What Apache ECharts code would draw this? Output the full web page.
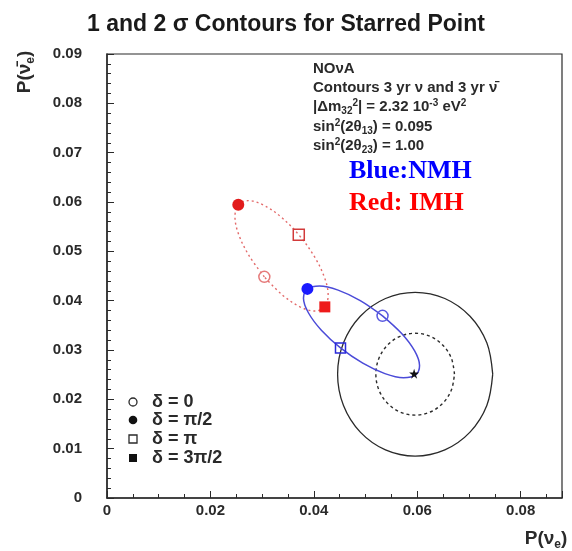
<!DOCTYPE html>
<html>
<head>
<meta charset="utf-8">
<title>1 and 2 sigma Contours for Starred Point</title>
<script src="https://cdn.jsdelivr.net/npm/echarts@6/dist/echarts.min.js"></script>
<style>
  html, body { margin: 0; padding: 0; background: #fff; }
  #main { width: 572px; height: 551px; }
</style>
</head>
<body>
<div id="main"></div>
<script>
  // axis ranges
  var xRange = [0, 0.088];
  var yRange = [0, 0.09];
  var xStep = 0.02;
  var yStep = 0.01;

  // contours, [P(nu_e), P(anti nu_e)]
  var sigma2Contour = [
    [0.0746, 0.0251], [0.07346, 0.03145], [0.07021, 0.03684], [0.06534, 0.04044],
    [0.0596, 0.0417], [0.05386, 0.04044], [0.04899, 0.03684], [0.04574, 0.03145],
    [0.0446, 0.0251], [0.04574, 0.01875], [0.04899, 0.01336], [0.05386, 0.00976],
    [0.0596, 0.0085], [0.06534, 0.00976], [0.07021, 0.01336], [0.07346, 0.01875],
    [0.0746, 0.0251]
  ];
  var sigma1Contour = [
    [0.0672, 0.0251], [0.06662, 0.02828], [0.06497, 0.03097], [0.06251, 0.03277],
    [0.0596, 0.0334], [0.05669, 0.03277], [0.05423, 0.03097], [0.05258, 0.02828],
    [0.0520, 0.0251], [0.05258, 0.02192], [0.05423, 0.01923], [0.05669, 0.01743],
    [0.0596, 0.0168], [0.06251, 0.01743], [0.06497, 0.01923], [0.06662, 0.02192],
    [0.0672, 0.0251]
  ];
  var blueContour = [
    [0.05329, 0.03692], [0.04898, 0.04001], [0.04470, 0.04213], [0.04111, 0.04297],
    [0.03876, 0.04239], [0.03800, 0.04049], [0.03895, 0.03755], [0.04146, 0.03401],
    [0.04516, 0.03043], [0.04947, 0.02733], [0.05375, 0.02521], [0.05734, 0.02437],
    [0.05969, 0.02495], [0.06045, 0.02685], [0.05950, 0.02980], [0.05699, 0.03333],
    [0.05329, 0.03692]
  ];
  var redContour = [
    [0.03043, 0.04483], [0.02748, 0.04911], [0.02548, 0.05339], [0.02475, 0.05701],
    [0.02539, 0.05943], [0.02730, 0.06028], [0.03020, 0.05941], [0.03364, 0.05698],
    [0.03709, 0.05335], [0.04004, 0.04906], [0.04204, 0.04478], [0.04277, 0.04116],
    [0.04213, 0.03874], [0.04022, 0.03790], [0.03732, 0.03876], [0.03388, 0.04119],
    [0.03043, 0.04483]
  ];

  // delta points
  var blueDelta0 = [[0.05329, 0.03692]];
  var blueDeltaHalfPi = [[0.03876, 0.04239]];
  var blueDeltaPi = [[0.04516, 0.03043]];
  var redDelta0 = [[0.03043, 0.04483]];
  var redDeltaHalfPi = [[0.02539, 0.05943]];
  var redDeltaPi = [[0.03709, 0.05335]];
  var redDelta3HalfPi = [[0.04213, 0.03874]];
  var starPoint = [[0.0594, 0.0252]];

  var legendLabels = ['δ = 0', 'δ = π/2', 'δ = π', 'δ = 3π/2'];

  var ink = '#2a2a2a';
  var blueLine = '#4b4bd8';
  var redLine = '#e36a6a';
  var sans = 'Liberation Sans, Arial';
  var starPath = 'path://M50,0 L61,35 L98,35 L68,57 L79,91 L50,70 L21,91 L32,57 L2,35 L39,35 Z';

  function fmt (v) {
    return v === 0 ? '0' : v.toFixed(2);
  }

  function contour (data, color, type, width) {
    return {
      type: 'line',
      data: data,
      smooth: 0.35,
      showSymbol: false,
      silent: true,
      z: 2,
      lineStyle: { color: color, width: width, type: type }
    };
  }

  function marker (data, symbol, size, fill, border) {
    return {
      type: 'scatter',
      data: data,
      symbol: symbol,
      symbolSize: size,
      z: 5,
      itemStyle: {
        color: fill,
        borderColor: border,
        borderWidth: border ? 1.5 : 0,
        opacity: 1
      }
    };
  }

  var sub = { fontSize: 10, fontWeight: 'bold', lineHeight: 10, verticalAlign: 'bottom', fill: ink, fontFamily: sans };
  var sup = { fontSize: 10, fontWeight: 'bold', lineHeight: 10, verticalAlign: 'top', fill: ink, fontFamily: sans };

  function infoText (y, text) {
    return {
      type: 'text',
      left: 313,
      top: y - 9,
      style: {
        text: text,
        fill: ink,
        font: 'bold 15px "Liberation Sans", Arial',
        lineHeight: 18,
        rich: {
          sb: sub,
          sp: sup
        }
      }
    };
  }

  var legendRows = [402, 420, 439, 458];
  var legendGraphics = [];
  legendGraphics.push({ type: 'circle', shape: { cx: 133, cy: legendRows[0], r: 4 }, style: { fill: 'none', stroke: ink, lineWidth: 1.3 } });
  legendGraphics.push({ type: 'circle', shape: { cx: 133, cy: legendRows[1], r: 4.3 }, style: { fill: '#111' } });
  legendGraphics.push({ type: 'rect', shape: { x: 129, y: legendRows[2] - 4, width: 8, height: 8 }, style: { fill: 'none', stroke: ink, lineWidth: 1.3 } });
  legendGraphics.push({ type: 'rect', shape: { x: 129, y: legendRows[3] - 4, width: 8, height: 8 }, style: { fill: '#111' } });
  for (var i = 0; i < legendLabels.length; i++) {
    legendGraphics.push({
      type: 'text',
      x: 152,
      y: legendRows[i],
      style: {
        text: legendLabels[i],
        fill: ink,
        font: 'bold 18px "Liberation Sans", Arial',
        verticalAlign: 'middle'
      }
    });
  }

  var axisName = {
    a: { fontSize: 19, fontWeight: 'bold', fill: ink, fontFamily: sans, lineHeight: 24 },
    s: { fontSize: 12, fontWeight: 'bold', fill: ink, fontFamily: sans, lineHeight: 12, verticalAlign: 'bottom' }
  };

  var chart = echarts.init(document.getElementById('main'));
  chart.setOption({
    animation: false,
    backgroundColor: '#fff',
    title: {
      text: '1 and 2 σ Contours for Starred Point',
      left: 'center',
      top: 8,
      textStyle: {
        fontFamily: sans,
        fontWeight: 'bold',
        fontSize: 23,
        color: '#1a1a1a'
      }
    },
    grid: {
      left: 107,
      right: 10,
      top: 54,
      bottom: 53,
      show: true,
      borderColor: ink,
      borderWidth: 1.2
    },
    xAxis: {
      type: 'value',
      min: xRange[0],
      max: xRange[1],
      interval: xStep,
      axisLine: { show: true, lineStyle: { color: ink, width: 1.5 } },
      axisTick: { show: true, inside: true, length: 7, lineStyle: { color: ink } },
      minorTick: { show: true, splitNumber: 4, length: 4, lineStyle: { color: ink } },
      splitLine: { show: false },
      axisLabel: {
        formatter: fmt,
        showMaxLabel: false,
        margin: 5,
        color: ink,
        fontWeight: 'bold',
        fontSize: 15,
        fontFamily: sans
      }
    },
    yAxis: {
      type: 'value',
      min: yRange[0],
      max: yRange[1],
      interval: yStep,
      axisLine: { show: true, lineStyle: { color: ink, width: 1.5 } },
      axisTick: { show: true, inside: true, length: 7, lineStyle: { color: ink } },
      minorTick: { show: true, splitNumber: 5, length: 4, lineStyle: { color: ink } },
      splitLine: { show: false },
      axisLabel: {
        formatter: fmt,
        margin: 25,
        color: ink,
        fontWeight: 'bold',
        fontSize: 15,
        fontFamily: sans
      }
    },
    series: [
      contour(sigma2Contour, ink, 'solid', 1.3),
      contour(sigma1Contour, ink, [3, 3], 1.4),
      contour(redContour, redLine, [2, 3], 1.4),
      contour(blueContour, blueLine, 'solid', 1.5),
      marker(redDelta0, 'circle', 11, 'rgba(0,0,0,0)', '#e57a7a'),
      marker(redDeltaHalfPi, 'circle', 12, '#e21b1b'),
      marker(redDeltaPi, 'rect', 11, 'rgba(0,0,0,0)', '#d23a3a'),
      marker(redDelta3HalfPi, 'rect', 11, '#ee1a1a'),
      marker(blueDelta0, 'circle', 11, 'rgba(0,0,0,0)', '#5a5ae0'),
      marker(blueDeltaHalfPi, 'circle', 12, '#1a1aff'),
      marker(blueDeltaPi, 'rect', 10, 'rgba(0,0,0,0)', '#2a2ad8'),
      marker(starPoint, starPath, 10, '#111')
    ],
    graphic: [
      {
        type: 'text',
        x: 25,
        y: 72,
        rotation: Math.PI / 2,
        style: {
          text: '{a|P(ν̄}{s|e}{a|)}',
          align: 'center',
          verticalAlign: 'middle',
          rich: axisName
        }
      },
      {
        type: 'text',
        x: 546,
        y: 539,
        style: {
          text: '{a|P(ν}{s|e}{a|)}',
          align: 'center',
          verticalAlign: 'middle',
          rich: axisName
        }
      },
      infoText(69, 'NOνA'),
      infoText(88, 'Contours 3 yr ν and 3 yr ν̄'),
      infoText(107, '|Δm{sb|32}{sp|2}| = 2.32 10{sp|-3} eV{sp|2}'),
      infoText(127, 'sin{sp|2}(2θ{sb|13}) = 0.095'),
      infoText(146, 'sin{sp|2}(2θ{sb|23}) = 1.00'),
      {
        type: 'text',
        left: 349,
        top: 158,
        style: {
          text: 'Blue:NMH',
          fill: '#0000ff',
          font: 'bold 26px "Liberation Serif", "Times New Roman", serif'
        }
      },
      {
        type: 'text',
        left: 349,
        top: 190,
        style: {
          text: 'Red: IMH',
          fill: '#ff0000',
          font: 'bold 26px "Liberation Serif", "Times New Roman", serif'
        }
      }
    ].concat(legendGraphics)
  });
</script>
</body>
</html>
